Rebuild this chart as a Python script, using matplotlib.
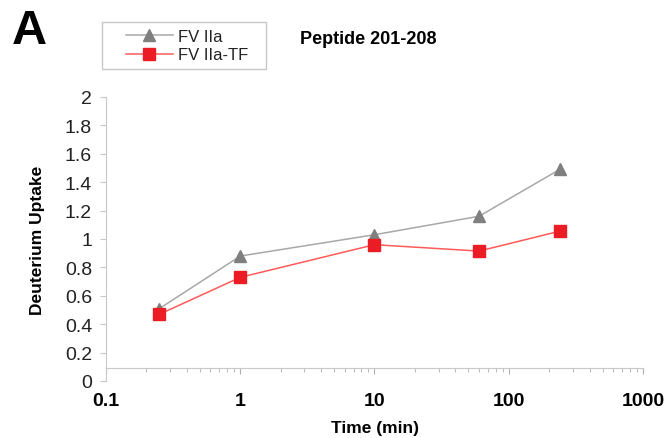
import matplotlib
matplotlib.use("Agg")
import matplotlib.pyplot as plt
from matplotlib.patches import Rectangle

# data
time_min = [0.25, 1, 10, 60, 240]
fviia = [0.51, 0.88, 1.03, 1.16, 1.49]
fviia_tf = [0.47, 0.73, 0.96, 0.915, 1.055]
series_names = ["FV IIa", "FV IIa-TF"]
y_ticks = [0, 0.2, 0.4, 0.6, 0.8, 1, 1.2, 1.4, 1.6, 1.8, 2]
y_tick_labels = ["0", "0.2", "0.4", "0.6", "0.8", "1", "1.2", "1.4", "1.6", "1.8", "2"]
x_ticks = [0.1, 1, 10, 100, 1000]
x_tick_labels = ["0.1", "1", "10", "100", "1000"]

plt.rcParams['font.family'] = ['Liberation Sans', 'DejaVu Sans']

W, H = 671, 439
fig = plt.figure(figsize=(W / 100, H / 100), dpi=100)
ax = fig.add_axes([106 / W, (H - 382) / H, 537 / W, 284 / H])

ax.plot(time_min, fviia, color='#a8a8a8', lw=1.1, marker='^', ms=9,
        mfc='#7f7f7f', mec='#7f7f7f', label=series_names[0], zorder=3)
ax.plot(time_min, fviia_tf, color='#ff5a5a', lw=1.1, marker='s', ms=8,
        mfc='#ec1c24', mec='#ec1c24', label=series_names[1], zorder=4)

ax.set_xscale('log')
ax.set_xlim(0.1, 1000)
ax.set_ylim(0, 2)

for s in ['top', 'right']:
    ax.spines[s].set_visible(False)
ax.spines['left'].set_color('#c8c8c8')
ax.spines['bottom'].set_color('#c8c8c8')
ax.spines['bottom'].set_position(('data', 0.09))
ax.tick_params(axis='y', direction='out', length=4, color='#c8c8c8', pad=6,
               labelsize=14, labelcolor='#222222')
ax.tick_params(axis='x', which='major', direction='out', length=4, color='#b0b0b0',
               pad=13, labelsize=14)
ax.tick_params(axis='x', which='minor', direction='out', length=3, color='#b0b0b0')

ax.set_xticks(x_ticks)
ax.set_xticklabels(x_tick_labels, fontsize=14, fontweight='bold')
ax.set_yticks(y_ticks)
ax.set_yticklabels(y_tick_labels, fontsize=14, color='#222222')
ax.xaxis.set_minor_formatter(plt.NullFormatter())

fig.text(38 / W, 1 - 240 / H, "Deuterium Uptake", rotation=90, ha='center', va='center',
         fontsize=12.5, fontweight='bold')
fig.text(375 / W, 1 - 429 / H, "Time (min)", ha='center', va='center',
         fontsize=12.5, fontweight='bold')
fig.text(300 / W, 1 - 40 / H, "Peptide 201-208", ha='left', va='center',
         fontsize=13, fontweight='bold')
fig.text(12 / W, 1 - 32 / H, "A", ha='left', va='center', fontsize=35, fontweight='bold')

# legend frame drawn by hand, entries placed inside it
fig.patches.append(Rectangle((102 / W, 1 - 70 / H), 164 / W, 47 / H, transform=fig.transFigure,
                             fill=False, edgecolor='#c8c8c8', lw=1.0))
leg = ax.legend(loc='upper left', bbox_to_anchor=(126 / W, 1 - 30 / H),
                bbox_transform=fig.transFigure, borderaxespad=0, borderpad=0,
                fontsize=12, handlelength=2.8, labelspacing=0.2,
                handletextpad=0.3, frameon=False)
for t in leg.get_texts():
    t.set_color('#222222')

fig.savefig("out.png", dpi=100)
